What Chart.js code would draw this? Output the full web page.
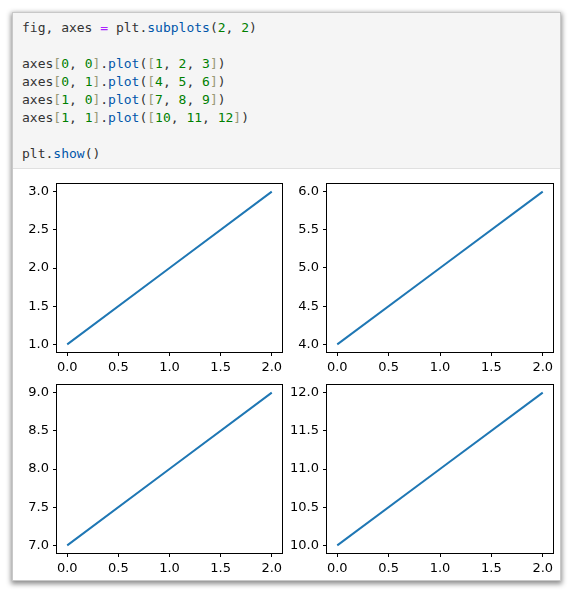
<!DOCTYPE html>
<html>
<head>
<meta charset="utf-8">
<script src="https://cdn.jsdelivr.net/npm/chart.js@4"></script>
<style>
  body { margin: 0; background: #fff; width: 572px; height: 593px; overflow: hidden; position: relative; }
  .card { position: absolute; left: 12px; top: 12px; width: 547px; height: 567px; background: #fff;
          border: 1px solid #c8c8c8; box-shadow: 0 2px 5px 1px rgba(0,0,0,0.45); }
  .code { position: absolute; left: 0; top: 0; right: 0; height: 155px; background: #f5f5f5;
          border-bottom: 1px solid #e0e0e0; }
  pre { margin: 0; padding: 6px 0 0 9px; font-family: "DejaVu Sans Mono", monospace; font-size: 13px;
        line-height: 18px; color: #333; }
  .o { color: #aa22ff; }
  .f { color: #0055aa; }
  .n { color: #008000; }
  .b { color: #999977; }
  canvas { position: absolute; }
</style>
</head>
<body>
<div class="card">
  <div class="code"><pre>fig, axes <span class="o">=</span> plt.<span class="f">subplots</span>(<span class="n">2</span>, <span class="n">2</span>)

axes<span class="b">[</span><span class="n">0</span>, <span class="n">0</span><span class="b">]</span>.<span class="f">plot</span>(<span class="b">[</span><span class="n">1</span>, <span class="n">2</span>, <span class="n">3</span><span class="b">]</span>)
axes<span class="b">[</span><span class="n">0</span>, <span class="n">1</span><span class="b">]</span>.<span class="f">plot</span>(<span class="b">[</span><span class="n">4</span>, <span class="n">5</span>, <span class="n">6</span><span class="b">]</span>)
axes<span class="b">[</span><span class="n">1</span>, <span class="n">0</span><span class="b">]</span>.<span class="f">plot</span>(<span class="b">[</span><span class="n">7</span>, <span class="n">8</span>, <span class="n">9</span><span class="b">]</span>)
axes<span class="b">[</span><span class="n">1</span>, <span class="n">1</span><span class="b">]</span>.<span class="f">plot</span>(<span class="b">[</span><span class="n">10</span>, <span class="n">11</span>, <span class="n">12</span><span class="b">]</span>)

plt.<span class="f">show</span>()</pre></div>
</div>
<canvas id="ax00" width="278" height="202" style="left:12px;top:176px"></canvas>
<canvas id="ax01" width="270" height="202" style="left:290px;top:176px"></canvas>
<canvas id="ax10" width="278" height="202" style="left:12px;top:378px"></canvas>
<canvas id="ax11" width="270" height="202" style="left:290px;top:378px"></canvas>
<script>
const xValues = [0, 1, 2];
const series00 = [1, 2, 3];
const series01 = [4, 5, 6];
const series10 = [7, 8, 9];
const series11 = [10, 11, 12];

const xTicks = [0, 0.5, 1, 1.5, 2];
const yTicks00 = [1, 1.5, 2, 2.5, 3];
const yTicks01 = [4, 4.5, 5, 5.5, 6];
const yTicks10 = [7, 7.5, 8, 8.5, 9];
const yTicks11 = [10, 10.5, 11, 11.5, 12];

const tickFont = { family: 'DejaVu Sans', size: 13 };

// matplotlib style: black box around the axes
const spines = {
  id: 'spines',
  afterDraw(chart) {
    const a = chart.chartArea;
    const ctx = chart.ctx;
    ctx.save();
    ctx.strokeStyle = '#000';
    ctx.lineWidth = 1;
    ctx.strokeRect(Math.round(a.left) - 0.5, Math.round(a.top) - 0.5,
                   Math.round(a.right - a.left) + 1, Math.round(a.bottom - a.top) + 1);
    ctx.restore();
  }
};

function margins(vals) {
  const lo = Math.min(...vals), hi = Math.max(...vals);
  const m = (hi - lo) * 0.05;
  return [lo - m, hi + m];
}

function axisOpts(ticks, range, fit) {
  return {
    type: 'linear',
    min: range[0],
    max: range[1],
    afterBuildTicks: s => { s.ticks = ticks.map(v => ({ value: v })); },
    afterFit: s => {
      fit(s);
      // let the layout padding alone decide where the plot box sits
      s.paddingTop = s.paddingBottom = s.paddingLeft = s.paddingRight = 0;
    },
    grid: { drawOnChartArea: false, drawTicks: true, tickLength: 4, color: '#000', lineWidth: 1 },
    border: { display: false },
    ticks: { font: tickFont, color: '#000', padding: 4, maxRotation: 0, autoSkip: false,
             callback: v => v.toFixed(1) }
  };
}

function makeChart(id, yData, yTicks, yAxisW, xAxisH, padTop, padRight) {
  return new Chart(document.getElementById(id), {
    type: 'line',
    data: {
      datasets: [{
        data: xValues.map((x, i) => ({ x: x, y: yData[i] })),
        borderColor: '#1f77b4',
        borderWidth: 2,
        pointRadius: 0,
        tension: 0,
        fill: false
      }]
    },
    options: {
      responsive: false,
      animation: false,
      devicePixelRatio: 1,
      layout: { padding: { top: padTop, right: padRight, left: 0, bottom: 0 } },
      plugins: { legend: { display: false }, tooltip: { enabled: false } },
      scales: {
        x: axisOpts(xTicks, margins(xValues), s => { s.height = xAxisH; }),
        y: axisOpts(yTicks, margins(yData), s => { s.width = yAxisW; })
      }
    },
    plugins: [spines]
  });
}

makeChart('ax00', series00, yTicks00, 45, 26, 8, 8);
makeChart('ax01', series01, yTicks01, 37, 26, 8, 7);
makeChart('ax10', series10, yTicks10, 45, 27, 7, 8);
makeChart('ax11', series11, yTicks11, 37, 27, 7, 7);
</script>
</body>
</html>
